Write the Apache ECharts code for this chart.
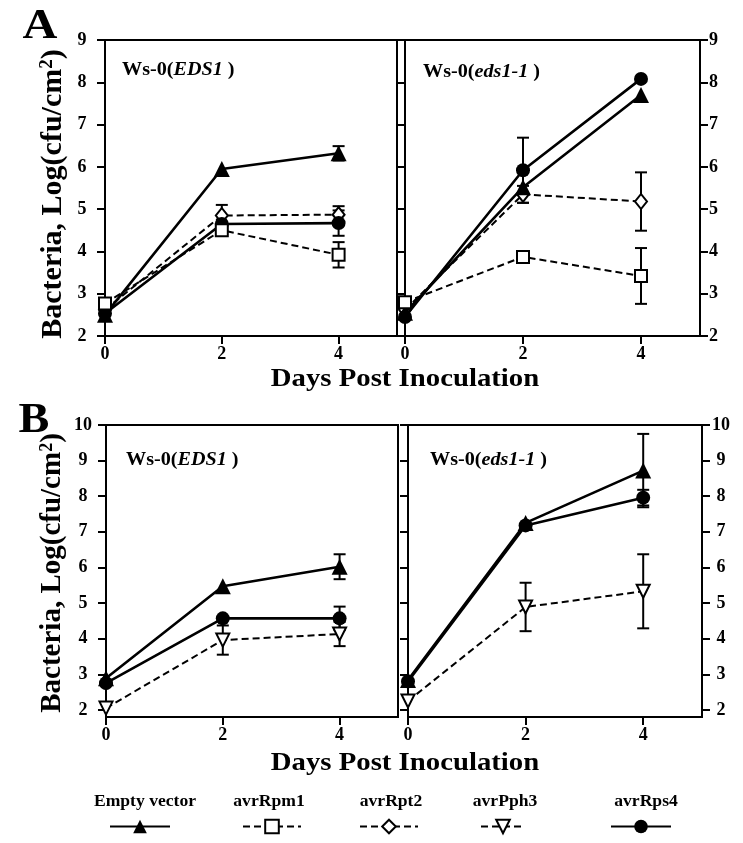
<!DOCTYPE html>
<html><head><meta charset="utf-8">
<script src="https://cdn.jsdelivr.net/npm/echarts@6/dist/echarts.min.js"></script>
<style>html,body{margin:0;padding:0;background:#fff}#c{width:743px;height:843px}</style>
</head><body><div id="c"></div>
<script>
// ---------- data ----------
const days = [0, 2, 4];
const xTickValues = [0, 2, 4];
const yTickValuesA = [2, 3, 4, 5, 6, 7, 8, 9];
const yTickValuesB = [2, 3, 4, 5, 6, 7, 8, 9, 10];
const seriesNames = ['Empty vector', 'avrRpm1', 'avrRpt2', 'avrPph3', 'avrRps4'];
const panelLabelsA = ['EDS1', 'eds1-1'];
const xAxisTitle = 'Days Post Inoculation';

// Panel A, Ws-0(EDS1)
const aEDS1Empty = [2.50, 5.95, 6.32];
const aEDS1EmptyErr = [0, 0, 0.17];
const aEDS1Rpm1 = [2.77, 4.50, 3.92];
const aEDS1Rpm1Err = [0, 0, 0.30];
const aEDS1Rpt2 = [2.62, 4.85, 4.87];
const aEDS1Rpt2Err = [0, 0.25, 0.20];
const aEDS1Rps4 = [2.53, 4.65, 4.67];
const aEDS1Rps4Err = [0, 0, 0.30];
// Panel A, Ws-0(eds1-1)
const aEds11Empty = [2.55, 5.52, 7.70];
const aEds11EmptyErr = [0, 0, 0];
const aEds11Rpm1 = [2.80, 3.87, 3.42];
const aEds11Rpm1Err = [0, 0, 0.66];
const aEds11Rpt2 = [2.62, 5.35, 5.18];
const aEds11Rpt2Err = [0, 0.20, 0.69];
const aEds11Rps4 = [2.45, 5.92, 8.08];
const aEds11Rps4Err = [0, 0.77, 0];
// Panel B, Ws-0(EDS1)
const bEDS1Empty = [2.89, 5.47, 6.02];
const bEDS1EmptyErr = [0, 0, 0.35];
const bEDS1Pph3 = [2.05, 3.96, 4.13];
const bEDS1Pph3Err = [0, 0.41, 0.34];
const bEDS1Rps4 = [2.75, 4.57, 4.57];
const bEDS1Rps4Err = [0, 0, 0.33];
// Panel B, Ws-0(eds1-1)
const bEds11Empty = [2.84, 7.25, 8.72];
const bEds11EmptyErr = [0, 0, 1.03];
const bEds11Pph3 = [2.25, 4.89, 5.33];
const bEds11Pph3Err = [0, 0.68, 1.04];
const bEds11Rps4 = [2.80, 7.18, 7.96];
const bEds11Rps4Err = [0, 0, 0.22];

// ---------- styling ----------
const FONT = '"Liberation Serif", "Times New Roman", serif';
const markStyle = {
  'Empty vector': {symbol: 'triangle', size: 16, fill: '#000', dash: 'solid', width: 2.6, rot: 0, z: 4},
  'avrRpm1': {symbol: 'rect', size: 12, fill: '#fff', dash: [7, 4], width: 2, rot: 0, z: 6},
  'avrRpt2': {symbol: 'diamond', size: [12, 15], fill: '#fff', dash: [7, 4], width: 2, rot: 0, z: 3},
  'avrPph3': {symbol: 'triangle', size: 13, fill: '#fff', dash: [7, 4], width: 2, rot: 180, z: 3},
  'avrRps4': {symbol: 'circle', size: 14, fill: '#000', dash: 'solid', width: 2.6, rot: 0, z: 4}
};

const panels = [
  {grid: {left: 105, top: 40, width: 292, height: 296}, yMin: 2, yMax: 9, yTicks: yTickValuesA, side: 'left',
   lines: [['Empty vector', aEDS1Empty, aEDS1EmptyErr], ['avrRpm1', aEDS1Rpm1, aEDS1Rpm1Err],
           ['avrRpt2', aEDS1Rpt2, aEDS1Rpt2Err], ['avrRps4', aEDS1Rps4, aEDS1Rps4Err]]},
  {grid: {left: 405, top: 40, width: 295, height: 296}, yMin: 2, yMax: 9, yTicks: yTickValuesA, side: 'right', labelAlign: 'left', labelMargin: 9,
   lines: [['Empty vector', aEds11Empty, aEds11EmptyErr], ['avrRpm1', aEds11Rpm1, aEds11Rpm1Err],
           ['avrRpt2', aEds11Rpt2, aEds11Rpt2Err], ['avrRps4', aEds11Rps4, aEds11Rps4Err]]},
  {grid: {left: 106, top: 425, width: 292, height: 292}, yMin: 1.8, yMax: 10, yTicks: yTickValuesB, side: 'left',
   lines: [['Empty vector', bEDS1Empty, bEDS1EmptyErr], ['avrPph3', bEDS1Pph3, bEDS1Pph3Err],
           ['avrRps4', bEDS1Rps4, bEDS1Rps4Err]]},
  {grid: {left: 408, top: 425, width: 294, height: 292}, yMin: 1.8, yMax: 10, yTicks: yTickValuesB, side: 'right', labelAlign: 'center', labelMargin: 19,
   lines: [['Empty vector', bEds11Empty, bEds11EmptyErr], ['avrPph3', bEds11Pph3, bEds11Pph3Err],
           ['avrRps4', bEds11Rps4, bEds11Rps4Err]]}
];

const tickLabelStyle = {color: '#000', fontFamily: FONT, fontWeight: 'bold', fontSize: 18};
const axisLineStyle = {show: true, onZero: false, lineStyle: {color: '#000', width: 2}};

const grids = [], xAxes = [], yAxes = [], series = [];

function renderErr(params, api) {
  const x = api.value(0), y = api.value(1), e = api.value(2);
  const p1 = api.coord([x, y + e]), p2 = api.coord([x, y - e]);
  const w = 6;
  const st = {stroke: '#000', lineWidth: 2};
  return {type: 'group', children: [
    {type: 'line', shape: {x1: p1[0], y1: p1[1], x2: p2[0], y2: p2[1]}, style: st},
    {type: 'line', shape: {x1: p1[0] - w, y1: p1[1], x2: p1[0] + w, y2: p1[1]}, style: st},
    {type: 'line', shape: {x1: p2[0] - w, y1: p2[1], x2: p2[0] + w, y2: p2[1]}, style: st}
  ]};
}

panels.forEach((p, gi) => {
  grids.push(Object.assign({show: true, borderColor: '#000', borderWidth: 2, backgroundColor: 'transparent',
    containLabel: false, outerBoundsMode: 'none'}, p.grid));
  xAxes.push({type: 'value', gridIndex: gi, min: 0, max: 5, axisLine: axisLineStyle,
    axisTick: {show: true, inside: false, length: 8, lineStyle: {color: '#000', width: 2}, customValues: xTickValues},
    axisLabel: Object.assign({show: true, margin: 9, customValues: xTickValues}, tickLabelStyle),
    splitLine: {show: false}});
  const yBase = {type: 'value', gridIndex: gi, min: p.yMin, max: p.yMax, axisLine: axisLineStyle, splitLine: {show: false},
    axisTick: {show: true, inside: false, length: 8, lineStyle: {color: '#000', width: 2}, customValues: p.yTicks}};
  let yIdx;
  if (p.side === 'left') {
    yIdx = yAxes.length;
    yAxes.push(Object.assign({}, yBase, {position: 'left',
      axisLabel: Object.assign({show: true, align: 'center', customValues: p.yTicks}, tickLabelStyle, {margin: 23})}));
  } else {
    yIdx = yAxes.length;
    yAxes.push(Object.assign({}, yBase, {position: 'left', axisLabel: {show: false}}));
    yAxes.push(Object.assign({}, yBase, {position: 'right',
      axisLabel: Object.assign({show: true, margin: p.labelMargin, align: p.labelAlign, customValues: p.yTicks}, tickLabelStyle)}));
  }
  p.lines.forEach(([name, vals, errs]) => {
    const s = markStyle[name];
    series.push({
      name: name, type: 'line', xAxisIndex: gi, yAxisIndex: yIdx,
      data: days.map((d, i) => [d, vals[i]]),
      symbol: s.symbol, symbolSize: s.size, symbolRotate: s.rot, showAllSymbol: true,
      lineStyle: {color: '#000', width: s.width, type: s.dash},
      itemStyle: {color: s.fill, borderColor: '#000', borderWidth: s.fill === '#fff' ? 2 : 0, opacity: 1},
      emphasis: {disabled: true}, z: s.z, animation: false, clip: false
    });
    const errData = days.map((d, i) => [d, vals[i], errs[i]]).filter(r => r[2] > 0);
    if (errData.length) {
      series.push({type: 'custom', xAxisIndex: gi, yAxisIndex: yIdx, data: errData,
        renderItem: renderErr, z: 2, animation: false, clip: false, silent: true});
    }
  });
});

// legend: one legend component per entry, labels drawn above
const legendIconX = [139, 271, 388, 502, 640];
const legendIconW = [60, 58, 58, 44, 60];
const legendLabelX = [145, 269, 391, 505, 646];
const legends = seriesNames.map((n, i) => ({
  data: [n], left: legendIconX[i] - legendIconW[i] / 2, top: 818, itemWidth: legendIconW[i], itemHeight: 17,
  padding: 0, itemGap: 0, selectedMode: false, formatter: () => '', textStyle: {fontSize: 1}
}));

const graphics = [];
function addText(x, y, text, fontSize, opts) {
  opts = opts || {};
  graphics.push({type: 'text', x: x, y: y, rotation: opts.rotation || 0, scaleX: opts.scaleX || 1, scaleY: opts.scaleY || 1,
    style: Object.assign({text: text, fill: '#000', font: 'bold ' + fontSize + 'px ' + FONT,
      fontSize: fontSize, fontFamily: FONT, fontWeight: 'bold',
      align: opts.align || 'center', verticalAlign: 'middle', textAlign: opts.align || 'center', textVerticalAlign: 'middle'},
      opts.rich ? {rich: opts.rich} : {})});
}
addText(40, 27, 'A', 42, {scaleX: 1.15});
addText(34, 421, 'B', 42, {scaleX: 1.1});
const richPanel = {
  n: {fontSize: 18, fontFamily: FONT, fontWeight: 'bold'},
  i: {fontSize: 18, fontFamily: FONT, fontWeight: 'bold', fontStyle: 'italic'}
};
addText(122, 70, '{n|Ws-0(}{i|' + panelLabelsA[0] + '}{n| )}', 18, {align: 'left', rich: richPanel, scaleX: 1.12});
addText(423, 72, '{n|Ws-0(}{i|' + panelLabelsA[1] + '}{n| )}', 18, {align: 'left', rich: richPanel, scaleX: 1.12});
addText(126, 460, '{n|Ws-0(}{i|' + panelLabelsA[0] + '}{n| )}', 18, {align: 'left', rich: richPanel, scaleX: 1.12});
addText(430, 460, '{n|Ws-0(}{i|' + panelLabelsA[1] + '}{n| )}', 18, {align: 'left', rich: richPanel, scaleX: 1.12});
const richY = {
  t: {fontSize: 30, fontFamily: FONT, fontWeight: 'bold'},
  s: {fontSize: 19, fontFamily: FONT, fontWeight: 'bold', verticalAlign: 'top', padding: [0, 0, 10, 0]}
};
const richYB = {
  t: {fontSize: 29, fontFamily: FONT, fontWeight: 'bold'},
  s: {fontSize: 18, fontFamily: FONT, fontWeight: 'bold', verticalAlign: 'top', padding: [0, 0, 10, 0]}
};
addText(53, 194, '{t|Bacteria, Log(cfu/cm}{s|2}{t|)}', 30, {rotation: Math.PI / 2, rich: richY});
addText(53, 573, '{t|Bacteria, Log(cfu/cm}{s|2}{t|)}', 29, {rotation: Math.PI / 2, rich: richYB});
addText(405, 380, xAxisTitle, 25, {scaleX: 1.15});
addText(405, 764, xAxisTitle, 25, {scaleX: 1.15});
seriesNames.forEach((n, i) => addText(legendLabelX[i], 802, n, 16, {scaleX: 1.1}));

const chart = echarts.init(document.getElementById('c'), null, {renderer: 'canvas'});
chart.setOption({
  animation: false,
  backgroundColor: '#fff',
  grid: grids, xAxis: xAxes, yAxis: yAxes, series: series,
  legend: legends, graphic: graphics, tooltip: {show: false}
});
</script></body></html>
